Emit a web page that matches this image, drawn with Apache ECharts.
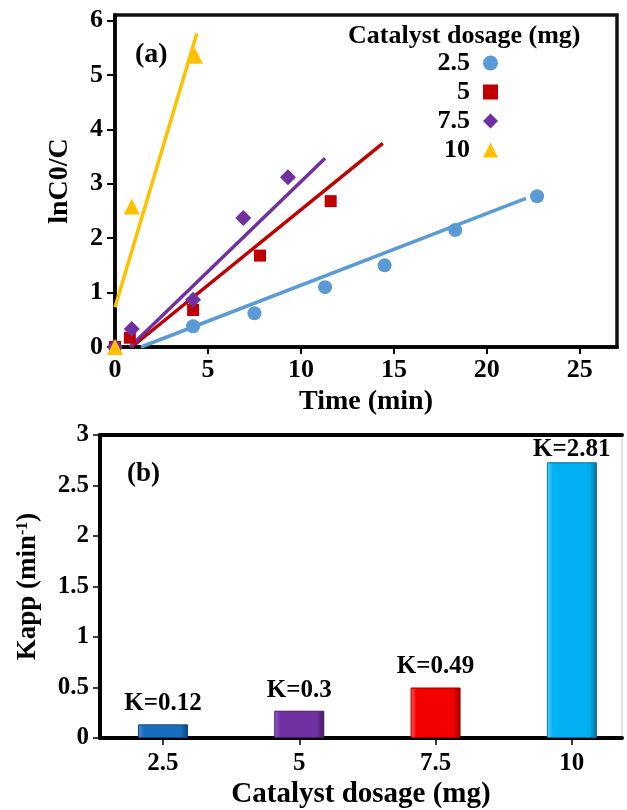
<!DOCTYPE html>
<html>
<head>
<meta charset="UTF-8">
<title>Catalyst dosage</title>
<script src="https://cdn.jsdelivr.net/npm/echarts@6/dist/echarts.min.js"></script>
<style>
html,body{margin:0;padding:0;background:#fff;}
#charts{width:627px;height:810px;}
</style>
</head>
<body>
<div id="charts"></div>
<script type="text/javascript">
// (a) lnC0/C vs time, one set per dosage
var names = ['2.5', '5', '7.5', '10'];
var colors = ['#5b9bd5', '#c00000', '#7030a0', '#ffc000'];
var symbols = ['circle', 'rect', 'diamond', 'triangle'];
var symbolSizes = [14, 12, 16, 16];

var time25 = [0, 4.2, 7.5, 11.3, 14.5, 18.3, 22.7];
var ln25   = [0, 0.38, 0.62, 1.1, 1.5, 2.15, 2.77];
var time5  = [0, 0.8, 4.2, 7.8, 11.6];
var ln5    = [0, 0.17, 0.68, 1.68, 2.68];
var time75 = [0, 0.9, 4.2, 6.9, 9.3];
var ln75   = [0, 0.33, 0.87, 2.37, 3.12];
var time10 = [0, 0.9, 4.3];
var ln10   = [0, 2.58, 5.35];

// fitted lines (start / end)
var fitX25 = [1.4, 22.1], fitY25 = [0, 2.73];
var fitX5  = [0.9, 14.4], fitY5  = [0, 3.74];
var fitX75 = [0.8, 11.3], fitY75 = [0, 3.47];
var fitX10 = [0, 4.4],    fitY10 = [0.73, 5.76];

// (b) apparent rate constant
var dosage = [2.5, 5, 7.5, 10];
var kDrawn = [0.135, 0.27, 0.5, 2.73];
var kLabel = ['0.12', '0.3', '0.49', '2.81'];
var barColors = [
	['#4a90d8', '#1a6cbd', '#0b467f'],
	['#9a5cc6', '#7030a0', '#46195f'],
	['#ff5a5a', '#f50000', '#9a0000'],
	['#5fd4ff', '#00b0f0', '#046d96']
];

function pairs(xs, ys){
	var out = [];
	for(var i = 0; i < xs.length; i++){
		out.push([xs[i], ys[i]]);
	}
	return out;
}

var pts = [pairs(time25, ln25), pairs(time5, ln5), pairs(time75, ln75), pairs(time10, ln10)];
var fits = [pairs(fitX25, fitY25), pairs(fitX5, fitY5), pairs(fitX75, fitY75), pairs(fitX10, fitY10)];

var font = 'Liberation Serif';

var series = [];
for(var i = 0; i < 4; i++){
	series.push({
		name: 'fit' + names[i],
		type: 'line',
		xAxisIndex: 0, yAxisIndex: 0,
		data: fits[i],
		symbol: 'none',
		lineStyle: {color: colors[i], width: 3.5},
		z: 2
	});
}
for(var i = 0; i < 4; i++){
	series.push({
		name: names[i],
		type: 'scatter',
		xAxisIndex: 0, yAxisIndex: 0,
		data: pts[i],
		symbol: symbols[i],
		symbolSize: symbolSizes[i],
		itemStyle: {color: colors[i], opacity: 1},
		z: 3
	});
}

var barData = [];
for(var i = 0; i < dosage.length; i++){
	barData.push({
		value: [dosage[i], kDrawn[i]],
		label: {distance: kDrawn[i] > 2 ? 0 : 8},
		itemStyle: {
			color: {type: 'linear', x: 0, y: 0, x2: 1, y2: 0, colorStops: [
				{offset: 0, color: barColors[i][0]},
				{offset: 0.12, color: barColors[i][1]},
				{offset: 0.85, color: barColors[i][1]},
				{offset: 1, color: barColors[i][2]}
			]},
			borderColor: barColors[i][2],
			borderWidth: 1
		}
	});
}
series.push({
	name: 'Kapp',
	type: 'bar',
	xAxisIndex: 1, yAxisIndex: 1,
	barWidth: 50,
	data: barData,
	label: {
		show: true,
		position: 'top',
		fontFamily: font, fontWeight: 'bold', fontSize: 25, color: '#000',
		formatter: function(p){ return 'K=' + kLabel[p.dataIndex]; }
	}
});

var mychart = echarts.init(document.getElementById('charts'));
var option = {
	backgroundColor: '#fff',
	animation: false,
	title: [
		{text: '(a)', left: 130, top: 36, textStyle: {fontFamily: font, fontWeight: 'bold', fontSize: 28, color: '#000'}},
		{text: 'Catalyst dosage (mg)', left: 343, top: 18, textStyle: {fontFamily: font, fontWeight: 'bold', fontSize: 26, color: '#000'}},
		{text: '(b)', left: 122, top: 456, textStyle: {fontFamily: font, fontWeight: 'bold', fontSize: 27, color: '#000'}}
	],
	legend: {
		data: names,
		orient: 'vertical',
		align: 'right',
		left: 427,
		top: 45,
		itemGap: 3,
		itemWidth: 15,
		itemHeight: 15,
		formatter: '{n|{name}}',
		textStyle: {
			rich: {n: {width: 38, align: 'right', padding: [0, 8, 0, 0], fontFamily: font, fontWeight: 'bold', fontSize: 26, lineHeight: 25, color: '#000'}}
		}
	},
	grid: [
		{left: 115, top: 15, width: 502, height: 332, show: true, borderColor: '#111', borderWidth: 3.5},
		{left: 100, top: 435, width: 522, height: 308, show: true, borderColor: '#c8c8c8', borderWidth: 1}
	],
	xAxis: [
		{
			gridIndex: 0, type: 'value', min: 0, max: 27, interval: 5,
			name: 'Time (min)', nameLocation: 'middle', nameGap: 41,
			nameTextStyle: {fontFamily: font, fontWeight: 'bold', fontSize: 28, color: '#000'},
			axisLine: {lineStyle: {color: '#000', width: 3.5}},
			axisTick: {inside: false, length: 7, lineStyle: {color: '#000', width: 2}},
			axisLabel: {margin: 10, showMaxLabel: false, fontFamily: font, fontWeight: 'bold', fontSize: 26, color: '#000'},
			splitLine: {show: false}
		},
		{
			gridIndex: 1, type: 'value', min: 1.345, max: 10.92,
			name: 'Catalyst dosage (mg)', nameLocation: 'middle', nameGap: 42,
			nameTextStyle: {fontFamily: font, fontWeight: 'bold', fontSize: 29, color: '#000'},
			axisLine: {lineStyle: {color: '#000', width: 4}},
			axisTick: {inside: false, length: 7, customValues: dosage, lineStyle: {color: '#000', width: 1.5}},
			axisLabel: {margin: 13, customValues: dosage, fontFamily: font, fontWeight: 'bold', fontSize: 25, color: '#000'},
			splitLine: {show: false}
		},
		{
			gridIndex: 1, type: 'value', position: 'top', min: 1.345, max: 10.92,
			axisLine: {lineStyle: {color: '#000', width: 4}},
			axisTick: {show: false}, axisLabel: {show: false}, splitLine: {show: false}
		}
	],
	yAxis: [
		{
			gridIndex: 0, type: 'value', min: 0, max: 6.1, interval: 1,
			name: 'lnC0/C', nameLocation: 'middle', nameGap: 41,
			nameTextStyle: {fontFamily: font, fontWeight: 'bold', fontSize: 28, color: '#000'},
			axisLine: {show: true, lineStyle: {color: '#000', width: 3.5}},
			axisTick: {show: true, inside: false, length: 8, lineStyle: {color: '#000', width: 2}},
			axisLabel: {margin: 12, showMaxLabel: false, fontFamily: font, fontWeight: 'bold', fontSize: 26, color: '#000'},
			splitLine: {show: false}
		},
		{
			gridIndex: 1, type: 'value', min: 0, max: 3, interval: 0.5,
			name: '{t|Kapp (min}{s|-1}{t|)}', nameLocation: 'middle', nameGap: 58,
			nameTextStyle: {
				rich: {
					t: {fontFamily: font, fontWeight: 'bold', fontSize: 27, color: '#000'},
					s: {fontFamily: font, fontWeight: 'bold', fontSize: 16, color: '#000', verticalAlign: 'top', padding: [0, 0, 10, 0]}
				}
			},
			axisLine: {show: true, lineStyle: {color: '#000', width: 4}},
			axisTick: {show: true, inside: false, length: 7, lineStyle: {color: '#000', width: 1.5}},
			axisLabel: {margin: 11, fontFamily: font, fontWeight: 'bold', fontSize: 25, color: '#000'},
			splitLine: {show: false}
		}
	],
	series: series
};
mychart.setOption(option);
</script>
</body>
</html>
